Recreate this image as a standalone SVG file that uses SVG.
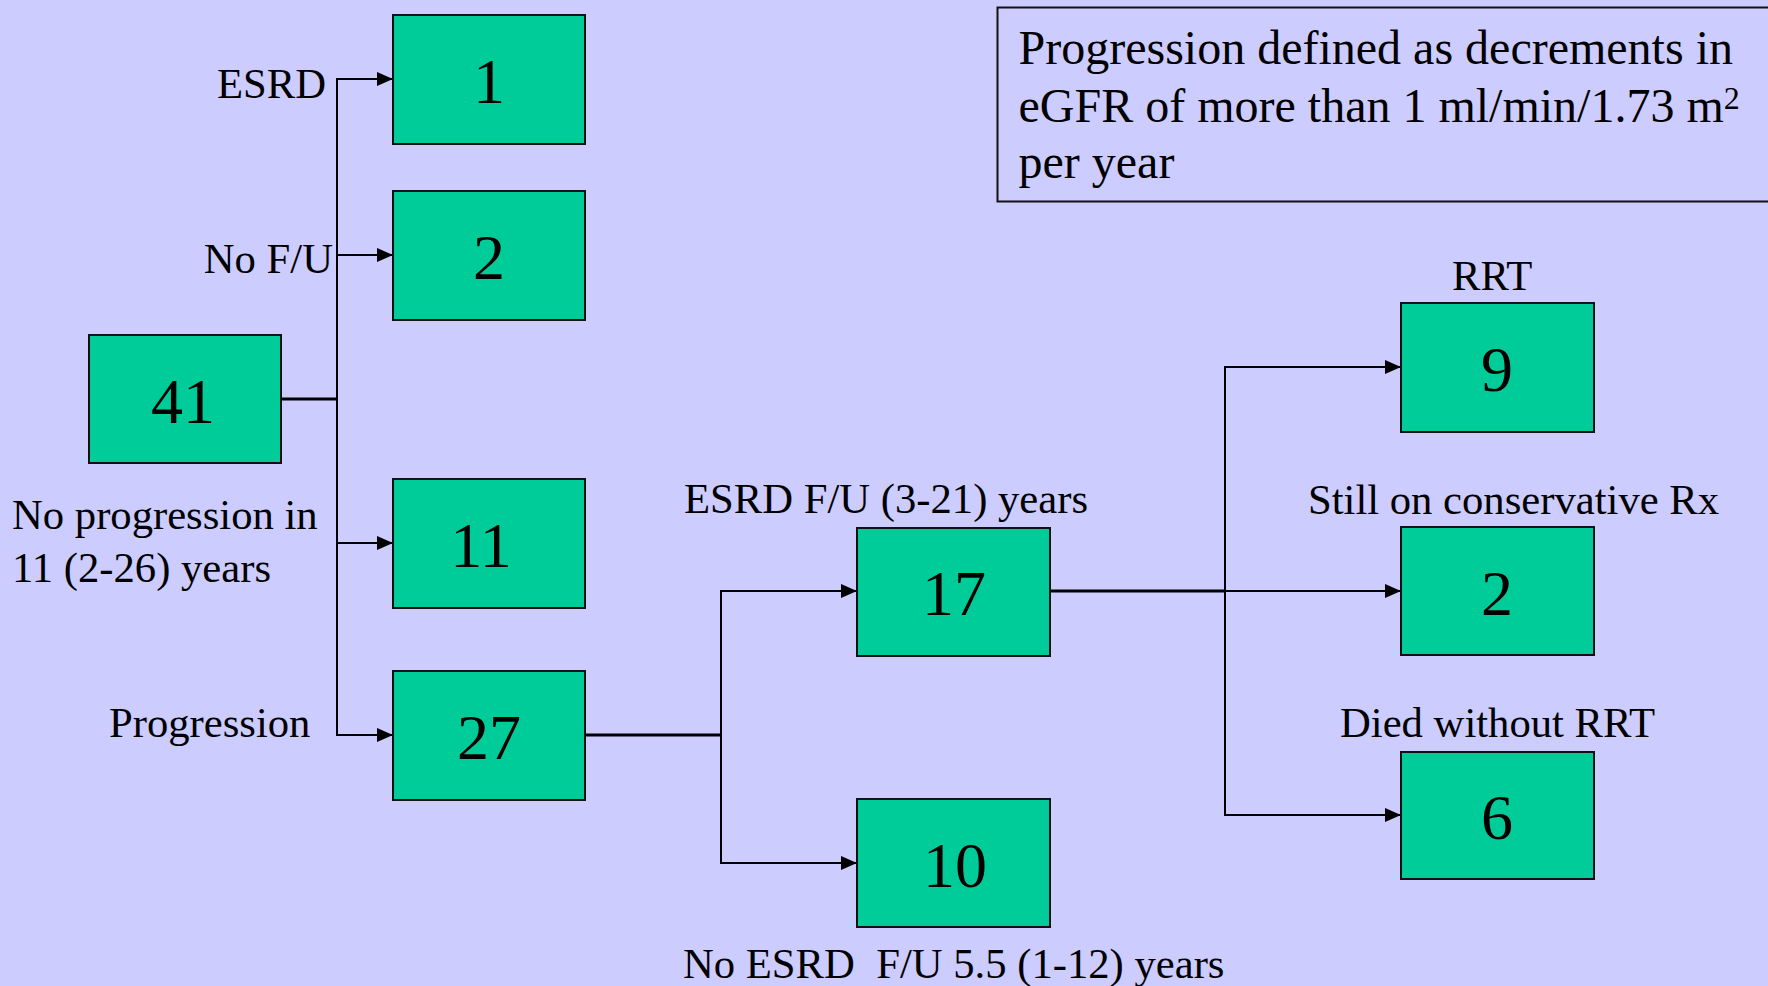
<svg xmlns="http://www.w3.org/2000/svg" width="1768" height="986" viewBox="0 0 1768 986">
<style>
.box{fill:#00CC99;stroke:#111;stroke-width:2}
.num{font-family:"Liberation Serif","Times New Roman",serif;font-size:64px;fill:#000;text-anchor:middle}
.lbl{font-family:"Liberation Serif","Times New Roman",serif;font-size:42.67px;fill:#000}
.note{font-family:"Liberation Serif","Times New Roman",serif;font-size:48px;fill:#000}
.ln{fill:none;stroke:#000;stroke-width:2}
.thk{fill:none;stroke:#000;stroke-width:3}
</style>
<defs>
<marker id="ah" markerUnits="userSpaceOnUse" markerWidth="17" markerHeight="15" refX="16" refY="7" orient="auto">
<path d="M0,0 L16,7 L0,14 z" fill="#000"/>
</marker>
</defs>
<rect x="0" y="0" width="1768" height="986" fill="#CCCCFF"/>

<g id="note">
<rect x="997.5" y="7.5" width="800" height="194" fill="none" stroke="#111" stroke-width="2"/>
<text class="note" x="1018.5" y="64">Progression defined as decrements in</text>
<text class="note" x="1018.5" y="122">eGFR of more than 1 ml/min/1.73 m<tspan font-size="32" dy="-13">2</tspan></text>
<text class="note" x="1018.5" y="178">per year</text>
</g>

<g id="connectors">
<line class="thk" x1="281" y1="399" x2="337" y2="399"/>
<line class="ln" x1="337" y1="78" x2="337" y2="736"/>
<line class="ln" x1="336" y1="79" x2="393" y2="79" marker-end="url(#ah)"/>
<line class="ln" x1="336" y1="255" x2="393" y2="255" marker-end="url(#ah)"/>
<line class="ln" x1="336" y1="543" x2="393" y2="543" marker-end="url(#ah)"/>
<line class="ln" x1="336" y1="735" x2="393" y2="735" marker-end="url(#ah)"/>

<line class="thk" x1="585" y1="735" x2="721" y2="735"/>
<line class="ln" x1="721" y1="590" x2="721" y2="864"/>
<line class="ln" x1="720" y1="591" x2="857" y2="591" marker-end="url(#ah)"/>
<line class="ln" x1="720" y1="863" x2="857" y2="863" marker-end="url(#ah)"/>

<line class="thk" x1="1050" y1="591" x2="1225" y2="591"/>
<line class="ln" x1="1225" y1="591" x2="1401" y2="591" marker-end="url(#ah)"/>
<line class="ln" x1="1225" y1="366" x2="1225" y2="816"/>
<line class="ln" x1="1224" y1="367" x2="1401" y2="367" marker-end="url(#ah)"/>
<line class="ln" x1="1224" y1="815" x2="1401" y2="815" marker-end="url(#ah)"/>
</g>

<g id="n41"><rect class="box" x="89" y="335" width="192" height="128"/><text class="num" x="183" y="423">41</text></g>
<g id="n1"><rect class="box" x="393" y="15" width="192" height="129"/><text class="num" x="489" y="103">1</text></g>
<g id="n2a"><rect class="box" x="393" y="191" width="192" height="129"/><text class="num" x="489" y="279">2</text></g>
<g id="n11"><rect class="box" x="393" y="479" width="192" height="129"/><text class="num" x="481" y="567">11</text></g>
<g id="n27"><rect class="box" x="393" y="671" width="192" height="129"/><text class="num" x="489" y="759">27</text></g>
<g id="n17"><rect class="box" x="857" y="528" width="193" height="128"/><text class="num" x="954" y="615">17</text></g>
<g id="n10"><rect class="box" x="857" y="799" width="193" height="128"/><text class="num" x="955" y="887">10</text></g>
<g id="n9"><rect class="box" x="1401" y="303" width="193" height="129"/><text class="num" x="1497" y="391">9</text></g>
<g id="n2b"><rect class="box" x="1401" y="527" width="193" height="128"/><text class="num" x="1497" y="615">2</text></g>
<g id="n6"><rect class="box" x="1401" y="752" width="193" height="127"/><text class="num" x="1497" y="839">6</text></g>

<g id="labels">
<text class="lbl" x="326" y="98" text-anchor="end">ESRD</text>
<text class="lbl" x="333" y="273" text-anchor="end">No F/U</text>
<text class="lbl" x="12" y="529">No progression in</text>
<text class="lbl" x="12" y="582">11 (2-26) years</text>
<text class="lbl" x="109" y="737">Progression</text>
<text class="lbl" x="684" y="513">ESRD F/U (3-21) years</text>
<text class="lbl" x="683" y="978" xml:space="preserve">No ESRD  F/U 5.5 (1-12) years</text>
<text class="lbl" x="1452" y="290">RRT</text>
<text class="lbl" x="1308" y="514">Still on conservative Rx</text>
<text class="lbl" x="1340" y="737">Died without RRT</text>
</g>
</svg>
